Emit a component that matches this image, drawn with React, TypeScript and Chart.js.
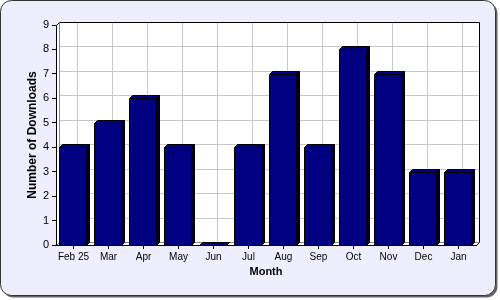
import React, { useEffect, useRef } from "react";
import { Chart, registerables } from "chart.js";

Chart.register(...registerables);

const categories = ["Feb 25", "Mar", "Apr", "May", "Jun", "Jul", "Aug", "Sep", "Oct", "Nov", "Dec", "Jan"];
const downloads = [4, 5, 6, 4, 0, 4, 7, 4, 8, 7, 3, 3];
const yTickValues = [0, 1, 2, 3, 4, 5, 6, 7, 8, 9];
const xTitle = "Month";
const yTitle = "Number of Downloads";

const FONT = "'Liberation Sans', Arial, sans-serif";
const DX = 3;
const DY = 3;
const NAVY = "#000080";

function roundRect(ctx: CanvasRenderingContext2D, x: number, y: number, w: number, h: number, r: number) {
  ctx.beginPath();
  ctx.moveTo(x + r, y);
  ctx.lineTo(x + w - r, y);
  ctx.arcTo(x + w, y, x + w, y + r, r);
  ctx.lineTo(x + w, y + h - r);
  ctx.arcTo(x + w, y + h, x + w - r, y + h, r);
  ctx.lineTo(x + r, y + h);
  ctx.arcTo(x, y + h, x, y + h - r, r);
  ctx.lineTo(x, y + r);
  ctx.arcTo(x, y, x + r, y, r);
  ctx.closePath();
}

function poly(ctx: CanvasRenderingContext2D, pts: number[][]) {
  ctx.beginPath();
  ctx.moveTo(pts[0][0], pts[0][1]);
  for (let i = 1; i < pts.length; i++) ctx.lineTo(pts[i][0], pts[i][1]);
  ctx.closePath();
}

const threeD = {
  id: "threeD",
  beforeDraw(chart: any) {
    const ctx: CanvasRenderingContext2D = chart.ctx;
    const { left, right, top, bottom } = chart.chartArea;
    const L = Math.round(left) + 0.5;
    const R = Math.round(right) + 0.5;
    const T = Math.round(top) + 0.5;
    const B = Math.round(bottom) + 0.5;
    ctx.save();
    // frame shadow + panel
    roundRect(ctx, 2.5, 2.5, 495, 295, 11);
    ctx.fillStyle = "#666";
    ctx.fill();
    roundRect(ctx, 0.5, 0.5, 495, 295, 11);
    ctx.fillStyle = "#EEEEFF";
    ctx.fill();
    ctx.strokeStyle = "#333";
    ctx.lineWidth = 1;
    ctx.stroke();

    // back wall
    ctx.fillStyle = "#fff";
    ctx.fillRect(L + DX, T - DY, R - L, B - T);
    // left wall
    poly(ctx, [[L, T], [L + DX, T - DY], [L + DX, B - DY], [L, B]]);
    ctx.fill();
    // floor
    poly(ctx, [[L, B], [L + DX, B - DY], [R + DX, B - DY], [R, B]]);
    ctx.fill();

    // grid on back wall
    const ys = chart.scales.y;
    const xs = chart.scales.x;
    ctx.strokeStyle = "#c8c8c8";
    ctx.beginPath();
    yTickValues.forEach((v) => {
      if (v === yTickValues[0] || v === yTickValues[yTickValues.length - 1]) return;
      const y = Math.round(ys.getPixelForValue(v)) + 0.5 - DY;
      ctx.moveTo(L + DX, y);
      ctx.lineTo(R + DX, y);
    });
    categories.forEach((_, i) => {
      const x = Math.round(xs.getPixelForValue(i)) + 0.5 + DX;
      ctx.moveTo(x, T - DY);
      ctx.lineTo(x, B - DY);
    });
    ctx.stroke();

    // wall outlines
    ctx.strokeStyle = "#000";
    ctx.beginPath();
    ctx.moveTo(L, T);
    ctx.lineTo(L + DX, T - DY);
    ctx.lineTo(R + DX, T - DY);
    ctx.lineTo(R + DX, B - DY);
    ctx.lineTo(R, B);
    ctx.stroke();
    ctx.strokeStyle = "#888";
    ctx.beginPath();
    ctx.moveTo(L + DX, T - DY);
    ctx.lineTo(L + DX, B - DY);
    ctx.lineTo(R + DX, B - DY);
    ctx.moveTo(L, B);
    ctx.lineTo(L + DX, B - DY);
    ctx.stroke();
    ctx.restore();
  },
  afterDatasetsDraw(chart: any) {
    const ctx: CanvasRenderingContext2D = chart.ctx;
    const meta = chart.getDatasetMeta(0);
    ctx.save();
    ctx.lineWidth = 1;
    ctx.strokeStyle = "#000";
    meta.data.forEach((bar: any) => {
      const { x, y, base, width } = bar.getProps(["x", "y", "base", "width"], true);
      const l = Math.round(x - width / 2 - 1.5) + 0.5;
      const r = l + Math.round(width);
      const t = Math.round(y) + 0.5;
      const b = Math.round(base) + 0.5;
      // side face
      poly(ctx, [[r, t], [r + DX, t - DY], [r + DX, b - DY], [r, b]]);
      ctx.fillStyle = "#000020";
      ctx.fill();
      ctx.stroke();
      // top face
      poly(ctx, [[l, t], [l + DX, t - DY], [r + DX, t - DY], [r, t]]);
      ctx.fillStyle = NAVY;
      ctx.fill();
      ctx.stroke();
      // front face
      ctx.beginPath();
      ctx.rect(l, t, r - l, b - t);
      ctx.fillStyle = NAVY;
      ctx.fill();
      ctx.stroke();
    });
    ctx.restore();
  },
};

export default function App() {
  const ref = useRef<HTMLCanvasElement | null>(null);
  useEffect(() => {
    document.body.style.margin = "0";
    const canvas = ref.current!;
    const tickFont = { family: FONT, size: 10 };
    const chart = new Chart(canvas, {
      type: "bar",
      data: {
        labels: categories,
        datasets: [
          {
            data: downloads,
            backgroundColor: "rgba(0,0,0,0)",
            borderWidth: 0,
            barThickness: 27,
          },
        ],
      },
      plugins: [threeD],
      options: {
        animation: false,
        responsive: false,
        devicePixelRatio: 1,
        layout: { padding: { top: 25, right: 24, left: 0, bottom: 0 } },
        plugins: { legend: { display: false }, tooltip: { enabled: false } },
        scales: {
          x: {
            type: "category",
            offset: true,
            grid: { display: true, drawOnChartArea: false, drawTicks: true, tickLength: 4, color: "#000", offset: false },
            border: { display: true, color: "#000" },
            ticks: { color: "#000", font: tickFont, padding: 2, maxRotation: 0, autoSkip: false },
            title: {
              display: true,
              text: xTitle,
              color: "#000",
              font: { family: FONT, size: 11, weight: "bold" },
              padding: { top: 0, bottom: 21 },
            },
            afterFit: (s: any) => {
              s.height = 55;
            },
          },
          y: {
            min: yTickValues[0],
            max: yTickValues[yTickValues.length - 1],
            grid: { display: true, drawOnChartArea: false, drawTicks: true, tickLength: 4, color: "#000" },
            border: { display: true, color: "#000" },
            ticks: {
              color: "#000",
              font: { family: FONT, size: 11 },
              padding: 3,
              stepSize: 1,
              autoSkip: false,
            },
            title: {
              display: true,
              text: yTitle,
              color: "#000",
              font: { family: FONT, size: 12, weight: "bold" },
              padding: { top: 25, bottom: 0 },
            },
            afterFit: (s: any) => {
              s.width = 56;
            },
          },
        },
      },
    } as any);
    return () => chart.destroy();
  }, []);
  return <canvas ref={ref} width={500} height={300} style={{ display: "block", width: 500, height: 300 }} />;
}
